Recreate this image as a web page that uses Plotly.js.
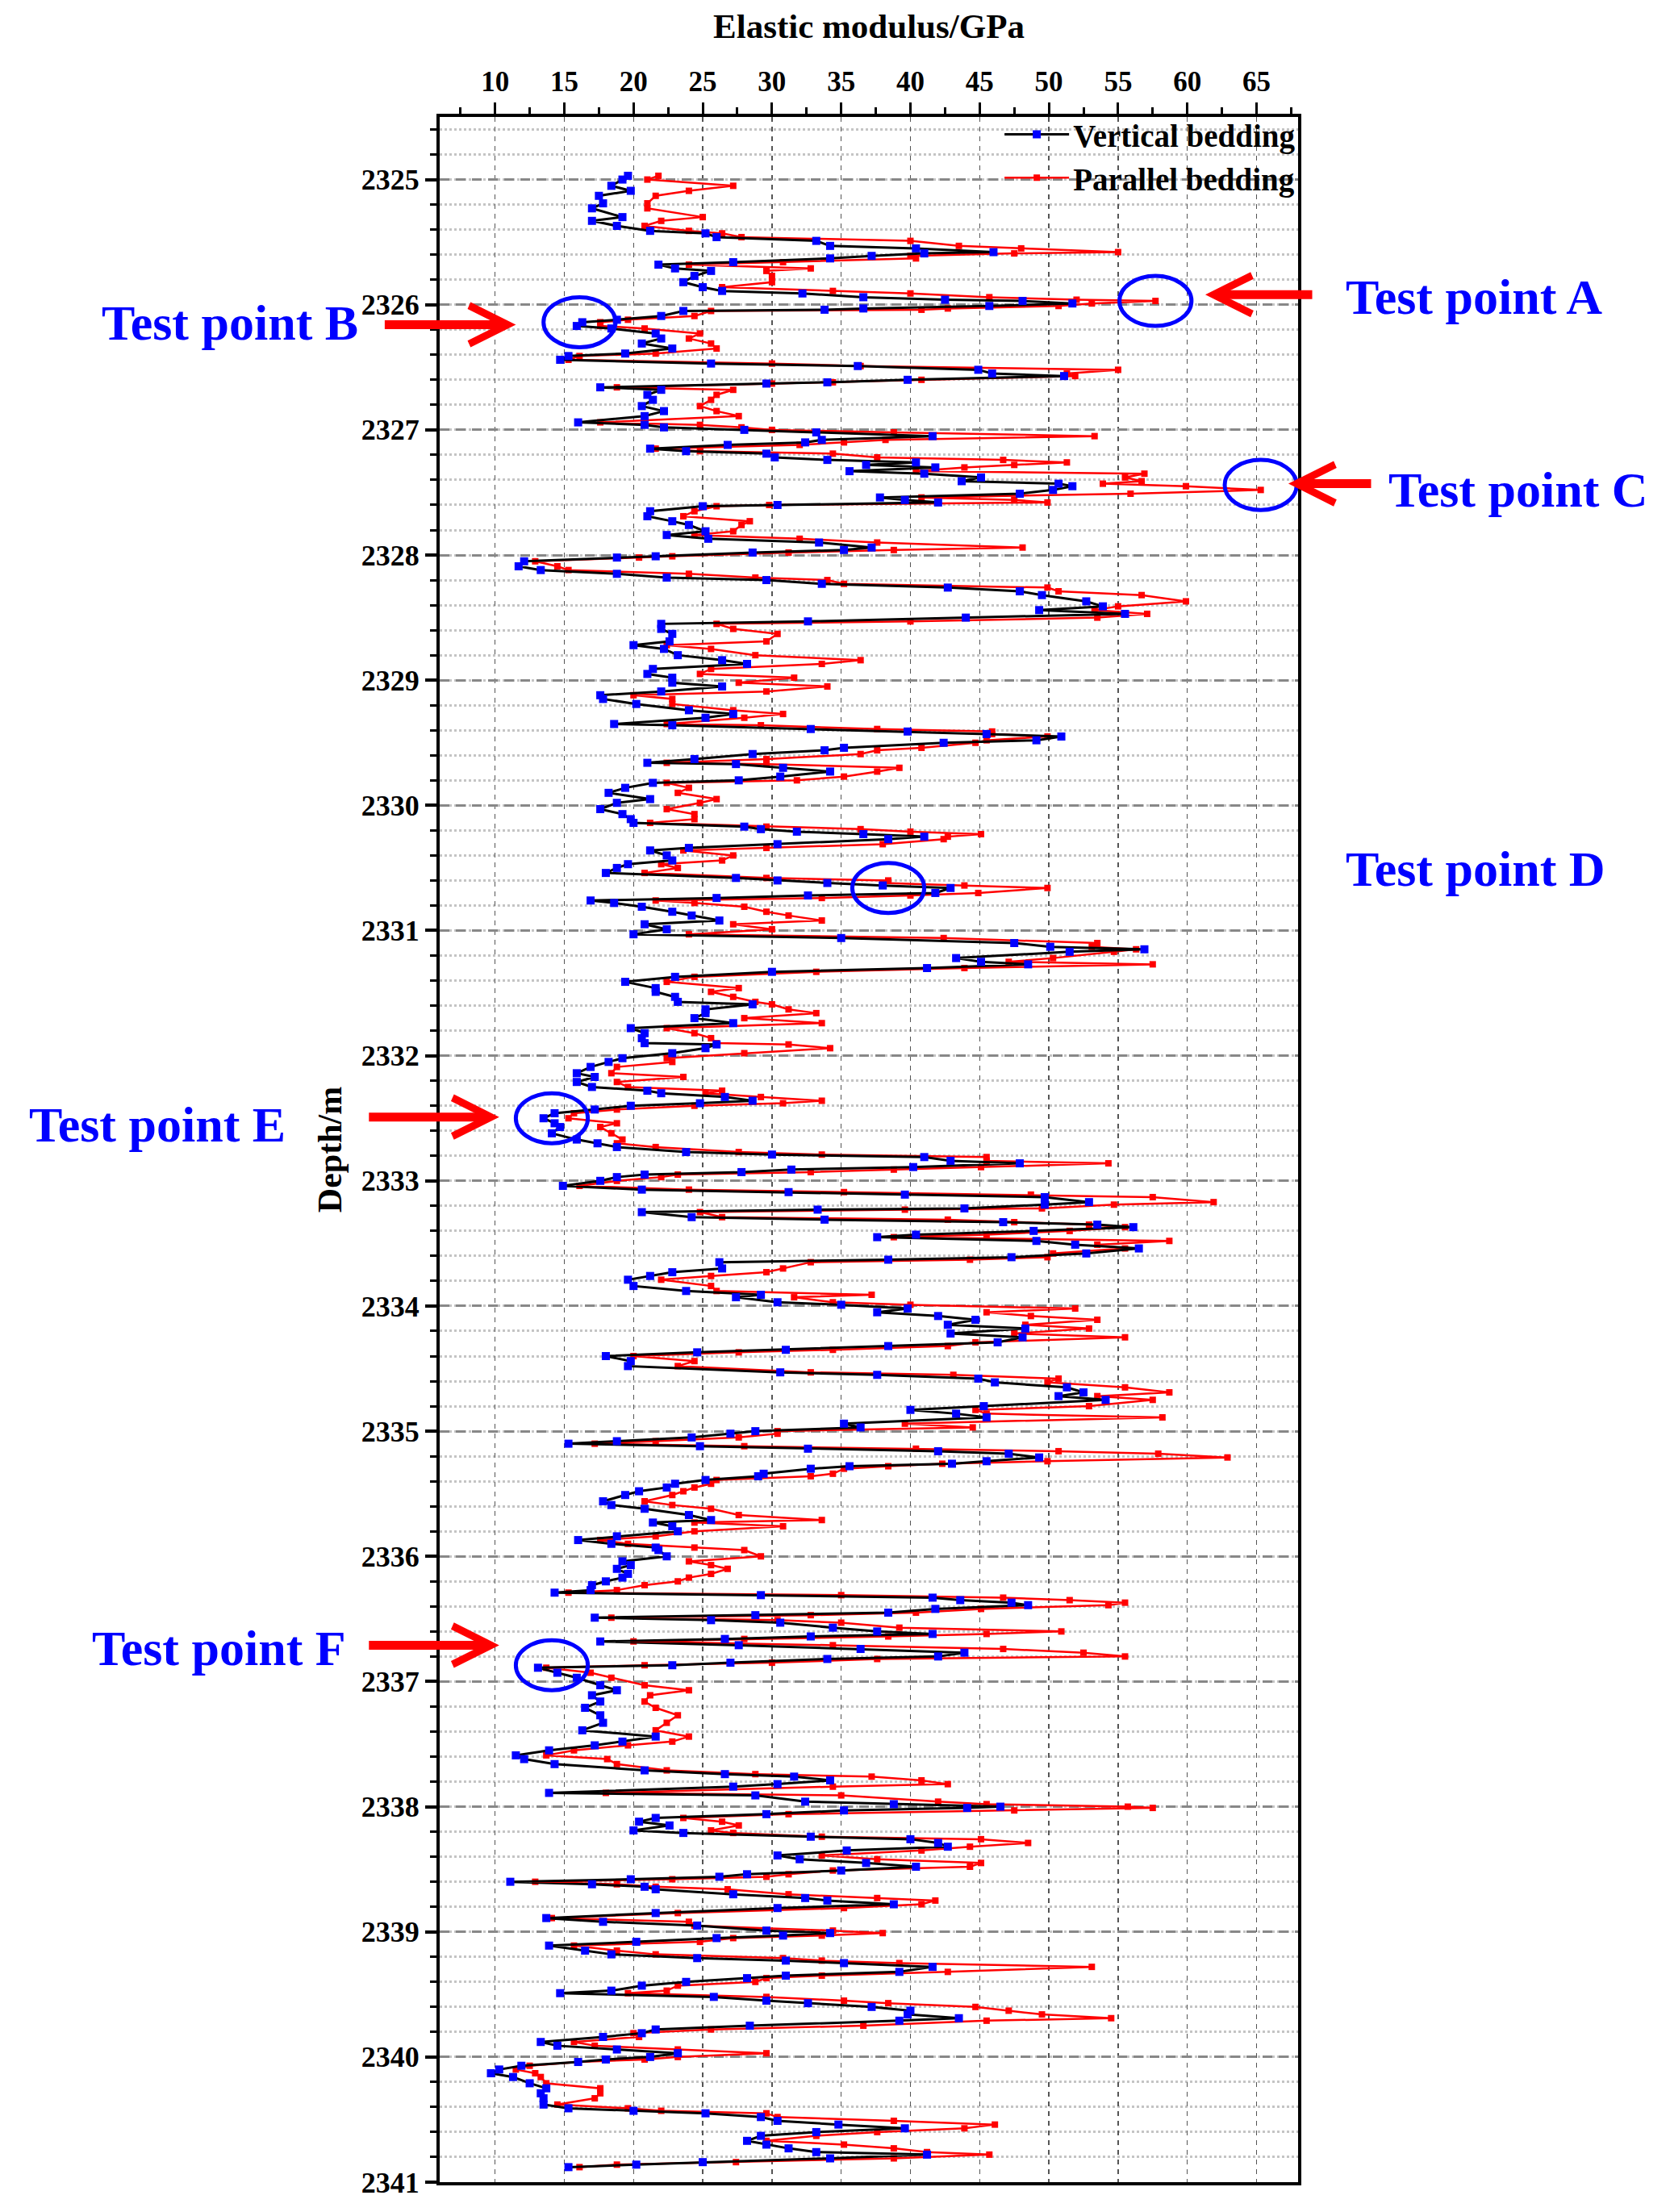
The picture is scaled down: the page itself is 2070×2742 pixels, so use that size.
<!DOCTYPE html>
<html>
<head>
<meta charset="utf-8">
<script src="https://cdn.plot.ly/plotly-3.0.1.min.js"></script>
<style>html,body{margin:0;padding:0;background:#fff;}#chart{width:2070px;height:2742px;}</style>
</head>
<body>
<div id="chart"></div>
<script>
// Depth (m) of each measurement
const depth = [
2324.97,2325.00,2325.05,2325.09,2325.13,2325.19,2325.23,2325.30,2325.33,2325.37,2325.41,2325.43,2325.46,2325.49,2325.53,2325.55,2325.58,2325.59,2325.61,2325.63,2325.66,2325.68,2325.71,2325.73,2325.77,2325.82,2325.86,2325.89,2325.91,2325.94,2325.96,2325.97,2325.99,2326.01,2326.03,2326.04,2326.05,2326.09,2326.12,2326.14,2326.17,2326.19,2326.23,2326.27,2326.31,2326.35,2326.39,2326.41,2326.44,2326.47,2326.49,2326.52,2326.55,2326.57,2326.60,2326.62,2326.63,2326.66,2326.68,2326.72,2326.76,2326.81,2326.85,2326.89,2326.94,2326.96,2326.98,
2327.00,2327.02,2327.05,2327.08,2327.10,2327.12,2327.15,2327.17,2327.19,2327.22,2327.24,2327.26,2327.28,2327.30,2327.33,2327.35,2327.38,2327.41,2327.43,2327.45,2327.48,2327.51,2327.54,2327.56,2327.58,2327.60,2327.61,2327.65,2327.69,2327.73,2327.76,2327.81,2327.84,2327.87,2327.90,2327.94,2327.96,2327.98,
2328.01,2328.02,2328.05,2328.09,2328.12,2328.15,2328.18,2328.20,2328.23,2328.26,2328.29,2328.32,2328.37,2328.41,2328.44,2328.47,2328.50,2328.53,2328.55,2328.59,2328.63,2328.69,2328.72,2328.75,2328.80,2328.84,2328.87,2328.91,2328.95,2328.98,
2329.02,2329.05,2329.09,2329.12,2329.15,2329.19,2329.24,2329.27,2329.30,2329.35,2329.36,2329.39,2329.41,2329.43,2329.45,2329.48,2329.50,2329.54,2329.56,2329.59,2329.63,2329.66,2329.67,2329.70,2329.73,2329.77,2329.80,2329.82,2329.86,2329.90,2329.95,2329.98,
2330.03,2330.07,2330.11,2330.14,2330.17,2330.19,2330.21,2330.23,2330.25,2330.27,2330.31,2330.34,2330.36,2330.40,2330.44,2330.47,2330.50,2330.54,2330.58,2330.60,2330.62,2330.64,2330.66,2330.70,2330.72,2330.74,2330.76,2330.78,2330.81,2330.85,2330.88,2330.92,2330.95,2330.99,
2331.03,2331.06,2331.10,2331.13,2331.15,2331.17,2331.22,2331.25,2331.27,2331.30,2331.33,2331.37,2331.41,2331.46,2331.49,2331.53,2331.57,2331.59,2331.63,2331.66,2331.70,2331.74,2331.78,2331.82,2331.86,2331.90,2331.91,2331.94,2331.98,
2332.02,2332.05,2332.09,2332.14,2332.17,2332.21,2332.25,2332.28,2332.30,2332.33,2332.36,2332.38,2332.40,2332.43,2332.46,2332.50,2332.54,2332.57,2332.62,2332.67,2332.70,2332.73,2332.77,2332.79,2332.81,2332.84,2332.86,2332.89,2332.91,2332.93,2332.95,2332.97,
2333.00,2333.04,2333.07,2333.09,2333.11,2333.13,2333.17,2333.19,2333.22,2333.23,2333.25,2333.29,2333.31,2333.33,2333.35,2333.37,2333.40,2333.43,2333.45,2333.48,2333.51,2333.54,2333.58,2333.61,2333.63,2333.65,2333.70,2333.73,2333.76,2333.79,2333.84,2333.88,2333.91,2333.93,2333.97,2333.99,
2334.02,2334.05,2334.08,2334.11,2334.15,2334.18,2334.22,2334.25,2334.29,2334.32,2334.35,2334.37,2334.40,2334.44,2334.48,2334.53,2334.55,2334.58,2334.61,2334.65,2334.69,2334.72,2334.75,2334.80,2334.83,2334.86,2334.89,2334.94,2334.97,
2335.00,2335.02,2335.05,2335.08,2335.10,2335.12,2335.14,2335.16,2335.18,2335.21,2335.24,2335.26,2335.28,2335.30,2335.34,2335.36,2335.39,2335.42,2335.45,2335.48,2335.51,2335.56,2335.59,2335.62,2335.67,2335.71,2335.73,2335.76,2335.80,2335.84,2335.87,2335.90,2335.93,2335.95,
2336.00,2336.04,2336.07,2336.10,2336.14,2336.17,2336.20,2336.23,2336.27,2336.29,2336.31,2336.33,2336.35,2336.37,2336.39,2336.42,2336.45,2336.47,2336.49,2336.51,2336.53,2336.57,2336.60,2336.62,2336.64,2336.66,2336.68,2336.71,2336.74,2336.77,2336.80,2336.82,2336.85,2336.87,2336.89,2336.93,2336.97,
2337.03,2337.07,2337.11,2337.16,2337.21,2337.27,2337.33,2337.39,2337.44,2337.48,2337.51,2337.55,2337.59,2337.62,2337.66,2337.71,2337.74,2337.76,2337.79,2337.82,2337.84,2337.89,2337.91,2337.96,2337.98,
2338.00,2338.01,2338.03,2338.06,2338.09,2338.12,2338.15,2338.19,2338.21,2338.24,2338.26,2338.29,2338.32,2338.35,2338.39,2338.42,2338.45,2338.48,2338.51,2338.54,2338.56,2338.58,2338.60,2338.62,2338.64,2338.66,2338.70,2338.73,2338.75,2338.78,2338.81,2338.85,2338.89,2338.92,2338.95,2338.99,
2339.01,2339.03,2339.05,2339.08,2339.11,2339.15,2339.18,2339.21,2339.23,2339.25,2339.28,2339.32,2339.35,2339.37,2339.40,2339.43,2339.47,2339.49,2339.52,2339.55,2339.57,2339.60,2339.63,2339.66,2339.69,2339.71,2339.75,2339.78,2339.81,2339.84,2339.88,2339.91,2339.94,2339.97,
2340.00,2340.02,2340.04,2340.07,2340.10,2340.13,2340.16,2340.21,2340.25,2340.29,2340.33,2340.38,2340.41,2340.43,2340.45,2340.48,2340.51,2340.54,2340.57,2340.60,2340.63,2340.67,2340.70,2340.73,2340.76,2340.78,2340.81,2340.84,2340.86,2340.88
];

// Elastic modulus (GPa), vertical bedding
const verticalBedding = [
19.6,19.2,18.4,19.8,17.5,17.8,17.0,19.2,17.0,18.8,21.2,25.2,26.0,33.2,34.2,40.4,46.0,41.0,37.2,34.2,27.2,21.8,23.0,25.6,24.4,23.6,25.0,26.4,32.2,36.6,42.5,48.1,51.7,45.7,36.6,33.8,23.6,22.0,18.8,16.3,15.9,18.4,21.6,22.0,20.6,22.8,19.4,15.3,14.7,25.6,36.2,44.9,45.9,51.1,39.8,34.0,29.6,17.6,22.0,21.0,21.4,20.6,22.2,20.8,16.0,20.8,22.2,
28.0,33.2,41.6,33.6,32.4,26.8,21.2,23.8,29.6,30.2,34.0,40.4,36.8,41.8,35.6,41.0,45.1,43.7,50.7,51.7,50.3,47.9,37.8,39.6,42.0,30.4,25.0,21.2,21.0,22.8,24.0,25.2,22.4,25.4,33.4,37.2,35.2,28.6,
21.6,18.8,12.1,11.7,13.3,18.8,22.4,29.6,33.6,42.7,47.9,49.5,52.7,53.9,49.3,55.5,44.0,32.6,22.0,22.0,22.8,22.6,20.0,22.2,23.2,26.4,28.2,21.4,21.0,22.8,
22.8,26.4,22.0,17.6,17.8,20.2,24.0,27.2,25.2,18.6,22.8,32.8,39.8,45.5,50.9,49.1,42.4,35.2,33.8,28.6,24.4,21.0,27.4,30.8,34.2,30.6,27.6,21.4,19.4,18.2,21.2,18.8,
17.6,19.2,19.8,20.0,28.0,29.2,31.8,36.6,41.0,38.4,30.4,24.0,21.2,22.4,22.8,19.6,18.8,18.0,27.4,30.4,34.0,38.0,42.9,41.8,32.6,26.0,16.9,18.6,20.6,22.8,24.2,26.2,20.8,22.4,
20.0,35.0,47.5,50.1,56.9,51.5,43.3,45.1,48.5,41.2,30.0,23.0,19.4,21.6,21.6,23.0,23.2,28.6,25.2,25.2,24.4,27.2,19.8,20.8,20.6,20.8,26.0,25.2,22.8,
19.2,18.2,16.9,15.9,17.2,15.9,17.0,21.0,22.0,26.6,28.6,24.8,19.8,17.2,14.3,13.5,14.3,14.7,14.1,15.9,17.4,18.8,23.8,30.0,41.0,42.9,47.9,40.2,31.4,27.8,20.8,18.8,
17.6,14.9,20.6,31.2,39.6,49.7,52.9,49.7,43.9,33.3,20.6,24.2,33.8,46.7,53.5,56.1,48.9,40.4,37.6,49.1,51.9,56.5,52.7,47.3,38.4,26.2,26.4,22.8,21.2,19.6,20.0,23.8,29.2,27.4,30.4,35.0,
39.8,37.6,42.0,44.7,42.7,48.3,42.9,48.1,46.3,38.4,31.0,24.6,18.0,19.8,19.6,30.6,37.6,44.9,46.1,51.3,52.5,50.7,54.1,45.3,40.0,43.3,45.5,35.2,36.4,
28.8,27.0,24.2,18.8,15.3,24.8,32.6,42.0,47.1,49.3,45.5,43.0,35.6,32.8,29.4,29.0,25.2,23.0,22.4,20.4,19.4,17.8,18.4,20.8,24.0,25.6,21.4,22.8,23.2,18.8,16.0,18.4,21.6,21.8,
22.4,19.2,19.8,18.8,19.6,19.2,18.0,17.0,16.9,14.3,29.2,41.6,43.6,47.3,48.5,41.8,38.4,28.8,17.2,25.6,30.6,34.4,37.6,41.6,32.8,26.6,17.6,27.6,36.4,43.9,42.0,34.0,27.0,22.8,13.1,14.5,15.9,
17.6,18.8,17.0,17.6,16.5,17.6,17.8,16.3,21.6,19.2,17.2,13.9,11.5,12.1,14.3,20.8,26.6,31.6,34.2,30.4,27.2,13.9,28.8,32.4,38.8,
46.5,44.1,35.2,29.6,21.6,20.4,22.6,20.0,23.6,32.8,40.0,42.0,42.7,35.4,30.4,32.0,36.8,40.4,35.0,28.2,26.2,19.8,11.1,17.0,20.8,21.6,27.2,32.4,34.0,38.8,30.4,21.6,13.7,17.8,24.6,29.6,
34.2,30.8,26.0,20.2,13.9,16.5,18.4,24.6,31.0,35.2,41.6,39.2,31.0,28.2,23.8,20.6,18.4,14.7,25.8,29.6,32.6,37.2,40.0,39.8,43.5,39.2,28.4,21.6,20.6,17.8,13.3,14.5,18.8,23.2,
21.2,18.0,16.0,11.9,10.3,9.7,11.3,12.5,13.7,13.3,13.5,13.5,15.3,20.0,25.2,29.2,30.4,34.8,39.6,33.2,29.2,28.2,29.6,31.2,33.2,41.2,34.2,25.0,20.2,15.3
];

// Elastic modulus (GPa), parallel bedding
const parallelBedding = [
21.8,21.0,27.2,24.0,21.6,21.0,21.0,25.0,22.0,20.8,24.0,26.4,27.8,40.0,43.5,48.0,55.0,47.5,40.0,40.4,30.8,24.0,32.8,29.6,30.0,30.0,26.4,34.4,40.0,45.7,52.0,57.7,53.1,50.7,42.7,40.8,25.6,24.4,19.6,17.6,17.6,20.8,24.8,24.0,25.6,26.0,21.6,16.1,15.3,30.0,36.4,55.0,51.3,51.9,40.8,34.4,30.0,18.8,27.2,26.0,25.6,24.8,26.0,27.6,17.6,24.8,27.8,
30.0,38.8,53.3,38.2,35.2,32.0,21.6,24.8,34.4,37.6,46.7,51.3,47.5,43.9,40.4,56.9,55.5,56.7,53.9,59.9,65.3,55.9,40.8,47.5,49.9,29.8,26.0,24.4,23.6,28.4,27.8,27.2,24.4,32.0,37.6,48.1,38.8,31.2,
22.8,20.4,12.9,14.5,15.3,24.0,28.8,34.0,35.2,49.9,50.7,56.7,59.9,55.0,53.3,57.1,53.5,40.0,26.0,27.2,30.4,29.6,22.4,25.6,28.8,36.4,33.6,25.6,24.8,31.6,
27.6,34.0,29.6,20.0,22.8,22.8,27.2,30.8,28.0,22.4,29.2,37.6,45.9,45.9,49.9,45.5,44.7,40.8,37.6,36.4,29.6,22.4,29.6,39.2,37.6,35.2,31.8,22.4,24.0,23.2,26.0,24.8,
22.4,24.4,24.4,21.2,29.6,36.4,40.0,45.1,42.7,42.4,38.0,29.6,23.6,27.2,26.4,22.0,23.2,20.8,29.6,38.4,38.0,43.9,49.9,44.9,40.0,33.6,21.6,24.4,28.0,29.6,31.2,33.6,27.2,30.0,
24.0,42.4,53.5,53.1,56.3,54.7,50.3,47.1,57.5,43.9,33.2,24.4,22.4,27.6,25.6,27.2,28.8,30.0,31.2,33.2,28.0,33.6,22.4,24.4,25.6,26.0,31.2,34.2,28.0,
22.4,22.8,18.8,18.4,23.6,18.8,19.6,26.4,25.2,29.2,33.6,30.8,24.4,18.8,15.7,15.3,18.8,17.6,18.4,19.2,18.8,21.6,27.6,33.6,45.5,45.5,54.3,45.1,38.8,32.8,23.2,22.0,
18.8,16.1,24.0,35.2,48.7,57.5,61.9,54.7,49.5,39.6,24.8,26.4,42.7,47.5,52.9,55.5,51.5,45.5,38.8,58.7,53.5,55.5,50.3,49.9,44.3,32.8,30.8,29.6,25.6,22.0,25.6,26.0,37.2,31.6,34.4,40.0,
51.9,45.5,48.7,53.5,48.3,52.9,47.5,55.5,44.7,42.7,34.4,27.6,20.0,24.4,23.2,32.8,43.1,50.7,49.9,55.5,58.7,53.5,57.5,52.9,44.7,45.5,58.2,39.6,44.5,
30.4,30.4,27.6,21.6,17.2,28.0,40.4,50.7,57.9,62.9,49.9,42.3,38.4,35.2,34.4,32.8,26.0,25.6,24.4,23.6,22.8,20.8,22.8,25.6,27.6,33.6,24.4,30.8,24.4,21.6,17.6,19.6,24.4,28.0,
29.2,24.0,25.6,26.8,25.6,24.0,23.2,20.8,18.8,15.3,35.0,46.7,51.5,55.5,54.3,45.1,40.4,32.8,18.4,30.4,35.0,39.2,50.9,45.5,38.4,28.0,20.0,34.4,46.7,52.5,55.5,37.6,30.0,20.8,13.7,16.9,18.4,
20.8,24.0,21.2,20.8,21.6,23.2,22.4,21.6,24.0,22.8,19.6,15.7,13.7,18.1,18.8,22.4,28.8,37.2,40.8,42.7,34.4,18.0,35.0,42.0,45.5,
55.7,57.5,47.5,31.2,23.6,26.4,27.6,25.6,27.2,33.6,45.1,48.5,44.3,40.8,33.6,37.6,45.1,44.3,34.4,31.2,29.6,22.8,12.9,18.8,21.6,26.8,31.2,37.6,41.8,40.8,35.2,23.2,14.1,24.0,24.4,34.4,
38.0,33.6,27.2,24.8,15.7,18.8,21.6,30.8,33.6,39.2,53.1,42.7,33.6,29.6,28.8,23.2,22.4,19.6,29.6,35.2,38.4,44.7,47.1,49.5,54.5,45.5,36.6,25.6,20.0,20.4,15.7,17.2,23.2,29.6,
23.2,20.8,16.0,12.5,11.5,12.9,13.3,13.7,17.6,17.6,17.2,14.5,19.6,22.0,29.6,30.4,38.8,46.1,43.9,37.6,33.2,29.6,35.2,38.8,41.2,45.7,38.8,27.4,18.8,16.1
];

// Axis tick values
const xTicks = [10,15,20,25,30,35,40,45,50,55,60,65];
const yTicks = [2325,2326,2327,2328,2329,2330,2331,2332,2333,2334,2335,2336,2337,2338,2339,2340,2341];

// Annotated test points
const testLabels = ['Test point A','Test point B','Test point C','Test point D','Test point E','Test point F'];
const circleX = [57.7, 16.1, 65.3, 38.4, 14.1, 14.1];
const circleY = [2325.97, 2326.14, 2327.44, 2330.66, 2332.50, 2336.87];

const serif = 'Liberation Serif, Times New Roman, serif';

const traces = [
  {
    name: 'Parallel bedding', x: parallelBedding, y: depth, type: 'scatter', mode: 'lines+markers',
    line: {color: '#ff0000', width: 2.5},
    marker: {symbol: 'square', color: '#ff0000', size: 8}
  },
  {
    name: 'Vertical bedding', x: verticalBedding, y: depth, type: 'scatter', mode: 'lines+markers',
    line: {color: '#000000', width: 3},
    marker: {symbol: 'square', color: '#0000ff', size: 10}
  }
];

const shapes = circleX.map((cx, i) => ({
  type: 'circle', xref: 'x', yref: 'y',
  x0: cx - 2.6, x1: cx + 2.6, y0: circleY[i] - 0.2, y1: circleY[i] + 0.2,
  line: {color: '#0000ff', width: 5}
}));

const textPos = [[1.205, 0.9129],[-0.2444, 0.9004],[1.2567, 0.8195],[1.2069, 0.6359],[-0.3289, 0.5121],[-0.2575, 0.2586]];
const annotations = testLabels.map((t, i) => ({
  text: t, xref: 'paper', yref: 'paper', x: textPos[i][0], y: textPos[i][1],
  showarrow: false, xanchor: 'center', yanchor: 'middle',
  font: {family: serif, size: 62, color: '#0000ff', weight: 'bold'}
}));

// arrows: [tipX, tipY, ax]
const arrows = [[61.3, 2325.92, 134],[11.5, 2326.16, -164],[67.3, 2327.43, 104],[10.3, 2332.49, -163],[10.3, 2336.71, -163]];
arrows.forEach(a => annotations.push({
  text: '', xref: 'x', yref: 'y', x: a[0], y: a[1], ax: a[2], ay: 0,
  showarrow: true, arrowhead: 5, arrowsize: 0.85, arrowwidth: 11, arrowcolor: '#ff0000'
}));

const layout = {
  width: 2070, height: 2742,
  paper_bgcolor: '#ffffff', plot_bgcolor: '#ffffff',
  margin: {l: 545, r: 461, t: 145, b: 37},
  showlegend: true,
  legend: {
    x: 1.002, xanchor: 'right', y: 1.004, yanchor: 'top', traceorder: 'reversed',
    bgcolor: 'rgba(0,0,0,0)', font: {family: serif, size: 39, color: '#000', weight: 'bold'},
    itemwidth: 80, tracegroupgap: 0
  },
  xaxis: {
    side: 'top', range: [6, 68], tickmode: 'array', tickvals: xTicks, ticktext: xTicks.map(String),
    ticks: 'outside', ticklen: 14, tickwidth: 3, tickcolor: '#000',
    tickfont: {family: serif, size: 35, color: '#000', weight: 'bold'},
    showline: true, linecolor: '#000', linewidth: 4, mirror: true,
    showgrid: true, gridcolor: '#555555', gridwidth: 1.5, griddash: '6px,6px',
    zeroline: false,
    minor: {dtick: 2.5, tick0: 0, ticks: 'outside', ticklen: 8, tickwidth: 3, tickcolor: '#000', showgrid: false},
    title: {text: 'Elastic modulus/GPa', font: {family: serif, size: 43, color: '#000', weight: 'bold'}, standoff: 22}
  },
  yaxis: {
    range: [2341, 2324.5], tickmode: 'array', tickvals: yTicks, ticktext: yTicks.map(String),
    ticks: 'outside', ticklen: 14, tickwidth: 4, tickcolor: '#000',
    tickfont: {family: serif, size: 36, color: '#000', weight: 'bold'},
    showline: true, linecolor: '#000', linewidth: 4, mirror: true,
    showgrid: true, gridcolor: '#888888', gridwidth: 3, griddash: '12px,8px',
    zeroline: false,
    minor: {dtick: 0.2, tick0: 2325, ticks: 'outside', ticklen: 8, tickwidth: 3, tickcolor: '#000',
            showgrid: true, gridcolor: '#c4c4c4', gridwidth: 3, griddash: 'dot'},
    title: {text: 'Depth/m', font: {family: serif, size: 42, color: '#000', weight: 'bold'}, standoff: 12}
  },
  shapes: shapes,
  annotations: annotations
};

Plotly.newPlot('chart', traces, layout, {displayModeBar: false, staticPlot: true});
</script>
</body>
</html>
